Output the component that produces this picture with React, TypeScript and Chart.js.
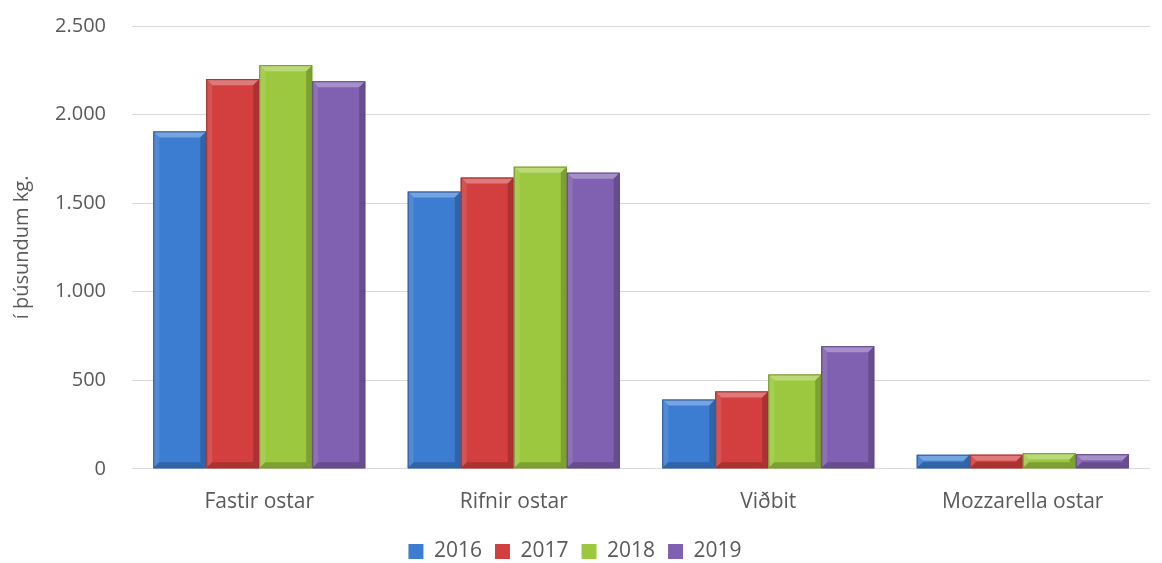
import React, { useEffect, useRef } from "react";
import { Chart, registerables } from "chart.js";

Chart.register(...registerables);

const categories = ["Fastir ostar", "Rifnir ostar", "Viðbit", "Mozzarella ostar"];
const seriesLabels = ["2016", "2017", "2018", "2019"];
const values2016 = [1905, 1565, 391, 79];
const values2017 = [2200, 1644, 437, 80];
const values2018 = [2279, 1706, 533, 88];
const values2019 = [2188, 1672, 692, 82];
const yTicks = [0, 500, 1000, 1500, 2000, 2500];

const colors = ["#3c7dd2", "#d33f3f", "#9cc840", "#8060b0"];

function shade(hex: string, amt: number) {
  const n = parseInt(hex.slice(1), 16);
  let r = (n >> 16) & 255, g = (n >> 8) & 255, b = n & 255;
  if (amt >= 0) {
    r = Math.round(r + (255 - r) * amt);
    g = Math.round(g + (255 - g) * amt);
    b = Math.round(b + (255 - b) * amt);
  } else {
    r = Math.round(r * (1 + amt));
    g = Math.round(g * (1 + amt));
    b = Math.round(b * (1 + amt));
  }
  return `rgb(${r},${g},${b})`;
}

const bevelPlugin = {
  id: "bevel",
  afterDatasetsDraw(chart: any) {
    const ctx = chart.ctx;
    chart.data.datasets.forEach((ds: any, di: number) => {
      const meta = chart.getDatasetMeta(di);
      const base = colors[di];
      meta.data.forEach((bar: any) => {
        const { x, y, base: by, width } = bar.getProps(["x", "y", "base", "width"], true);
        const l = x - width / 2, r = x + width / 2, t = y, b = by;
        const h = b - t;
        const bv = Math.min(6, h / 2, width / 2);
        ctx.save();
        ctx.fillStyle = shade(base, 0.3);
        ctx.beginPath();
        ctx.moveTo(l, t); ctx.lineTo(r, t); ctx.lineTo(r - bv, t + bv); ctx.lineTo(l + bv, t + bv); ctx.closePath(); ctx.fill();
        ctx.fillStyle = shade(base, 0.1);
        ctx.beginPath();
        ctx.moveTo(l, t); ctx.lineTo(l + bv, t + bv); ctx.lineTo(l + bv, b - bv); ctx.lineTo(l, b); ctx.closePath(); ctx.fill();
        ctx.fillStyle = shade(base, -0.2);
        ctx.beginPath();
        ctx.moveTo(r, t); ctx.lineTo(r - bv, t + bv); ctx.lineTo(r - bv, b - bv); ctx.lineTo(r, b); ctx.closePath(); ctx.fill();
        ctx.fillStyle = shade(base, -0.2);
        ctx.beginPath();
        ctx.moveTo(l, b); ctx.lineTo(l + bv, b - bv); ctx.lineTo(r - bv, b - bv); ctx.lineTo(r, b); ctx.closePath(); ctx.fill();
        ctx.strokeStyle = shade(base, -0.25);
        ctx.lineWidth = 1;
        ctx.strokeRect(l + 0.5, t + 0.5, width - 1, h - 1);
        ctx.restore();
      });
    });
  },
};

export default function App() {
  const ref = useRef<HTMLCanvasElement>(null);
  useEffect(() => {
    document.body.style.margin = "0";
    document.body.style.overflow = "hidden";
    const all = [values2016, values2017, values2018, values2019];
    const chart = new Chart(ref.current!, {
      type: "bar",
      data: {
        labels: categories,
        datasets: seriesLabels.map((s, i) => ({
          label: s,
          data: all[i],
          backgroundColor: colors[i],
          borderWidth: 0,
          barPercentage: 1.0,
          categoryPercentage: 0.833,
        })),
      },
      options: {
        animation: false,
        responsive: true,
        maintainAspectRatio: false,
        layout: { padding: { left: 0, right: 12, top: 5, bottom: 0 } },
        plugins: {
          tooltip: { enabled: false },
          legend: {
            position: "bottom",
            labels: {
              font: { family: "Open Sans", size: 21 },
              color: "#595959",
              boxWidth: 15,
              boxHeight: 15,
              padding: 13,
            },
          },
        },
        scales: {
          x: {
            grid: { display: false },
            border: { display: false },
            ticks: { font: { family: "Open Sans", size: 21 }, color: "#595959", padding: 13 },
          },
          y: {
            min: 0,
            max: 2500,
            afterBuildTicks: (axis: any) => {
              axis.ticks = yTicks.map((v) => ({ value: v }));
            },
            afterFit: (axis: any) => {
              axis.width = 132;
            },
            grid: { color: "#d9d9d9", drawTicks: false },
            border: { display: false },
            ticks: {
              font: { family: "Open Sans", size: 20 },
              color: "#595959",
              padding: 26,
              callback: (v: any) => Number(v).toLocaleString("de-DE"),
            },
            title: {
              display: true,
              text: "í þúsundum kg.",
              font: { family: "Open Sans", size: 20 },
              color: "#595959",
              padding: { top: 10, bottom: 21 },
            },
          },
        },
      },
      plugins: [bevelPlugin],
    });
    return () => chart.destroy();
  }, []);
  return (
    <div style={{ width: "1162px", height: "563px", position: "relative", overflow: "hidden" }}>
      <div style={{ position: "absolute", left: 0, top: "-12px", width: "1162px", height: "584px" }}>
        <canvas ref={ref} />
      </div>
    </div>
  );
}
